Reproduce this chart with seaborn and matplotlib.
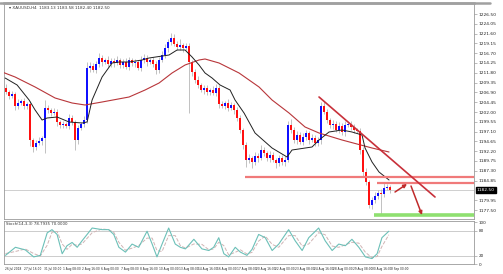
import matplotlib
matplotlib.use("Agg")
import matplotlib.pyplot as plt
from matplotlib.lines import Line2D
import numpy as np
import pandas as pd
import seaborn as sns

# ---------------- data ----------------
first_open = 1208.00
closes = [
    1207.00, 1206.00, 1206.50, 1203.50, 1204.25, 1204.75, 1203.50, 1204.00, 1195.00, 1193.25,
    1194.25, 1194.75, 1195.50, 1203.00, 1202.50, 1201.75, 1202.00, 1199.50, 1198.75, 1199.00,
    1198.50, 1200.50, 1199.50, 1195.00, 1198.00, 1199.00, 1200.00, 1213.00, 1213.50, 1212.50,
    1214.00, 1215.50, 1214.50, 1215.00, 1214.00, 1214.75, 1214.25, 1215.00, 1213.75, 1214.50,
    1213.25, 1215.00, 1214.25, 1214.50, 1213.00, 1215.00, 1215.50, 1214.50, 1215.00, 1214.00,
    1212.50, 1215.00, 1216.25, 1218.00, 1219.50, 1220.50, 1219.00, 1218.25, 1218.75, 1218.00,
    1218.50, 1214.50, 1212.00, 1210.00, 1208.75, 1207.50, 1208.00, 1207.00, 1207.50, 1206.75,
    1208.00, 1204.00, 1203.50, 1204.25, 1203.00, 1203.75, 1202.50, 1200.50, 1197.50, 1193.75,
    1190.00, 1190.50, 1189.50, 1191.00, 1190.50, 1192.50, 1191.75, 1190.50, 1191.25, 1190.00,
    1189.25, 1190.50, 1189.50, 1190.00, 1198.75, 1197.50, 1195.00, 1196.25, 1194.50, 1195.75,
    1196.75, 1195.00, 1195.50, 1194.25, 1195.00, 1203.50, 1202.00, 1200.00, 1198.75, 1199.00,
    1197.50, 1198.50, 1197.00, 1198.75, 1199.00, 1198.25, 1197.50, 1197.25, 1192.50, 1187.00,
    1184.50, 1178.75, 1180.00, 1181.00, 1181.75, 1181.50, 1183.00, 1183.25, 1182.50,
]
upper_wick = [
    1.0, 0.5, 0.8, 0.6, 0.9, 0.5, 0.7, 0.6, 0.8, 0.6,
    0.7, 0.9, 0.5, 2.0, 0.8, 0.6, 1.0, 0.7, 0.5, 0.8,
    0.6, 0.9, 0.7, 0.5, 0.8, 0.6, 0.9, 1.5, 1.0, 0.8,
    0.7, 1.2, 0.8, 0.6, 0.9, 0.7, 0.8, 1.0, 0.6, 0.7,
    0.9, 0.8, 0.6, 0.7, 0.5, 1.0, 0.9, 0.7, 0.6, 0.8,
    0.7, 0.8, 0.9, 1.0, 0.8, 1.2, 0.9, 0.7, 1.5, 0.6,
    0.8, 0.7, 0.6, 0.8, 0.9, 0.6, 0.7, 0.8, 0.6, 0.9,
    1.0, 0.7, 0.8, 0.6, 0.9, 0.7, 0.6, 0.8, 0.7, 0.6,
    0.8, 0.9, 0.6, 1.0, 0.7, 1.2, 0.8, 0.6, 0.9, 0.7,
    0.6, 0.8, 0.7, 0.9, 1.0, 1.5, 0.8, 0.9, 0.7, 1.0,
    0.8, 0.6, 0.9, 0.7, 0.8, 1.0, 1.2, 0.8, 0.6, 0.9,
    0.7, 1.0, 0.8, 0.9, 0.6, 0.8, 0.7, 0.6, 0.8, 0.7,
    0.9, 0.6, 0.8, 1.0, 0.7, 0.9, 1.2, 0.8, 0.6,
]
lower_wick = [
    0.6, 0.8, 0.5, 0.9, 0.7, 0.6, 0.8, 0.7, 1.5, 1.2,
    0.8, 0.6, 0.9, 3.75, 0.7, 0.8, 0.6, 0.9, 0.7, 0.8,
    0.6, 0.7, 0.8, 2.5, 0.9, 0.6, 0.7, 0.8, 0.9, 0.6,
    0.8, 0.7, 0.9, 0.6, 0.8, 0.7, 0.9, 0.6, 0.8, 0.7,
    0.6, 0.8, 0.7, 0.9, 0.6, 0.8, 0.7, 0.9, 0.6, 0.8,
    1.0, 0.7, 0.6, 0.8, 0.9, 0.7, 0.6, 0.8, 0.7, 0.9,
    0.6, 12.75, 0.9, 0.7, 0.8, 0.6, 0.9, 0.7, 0.8, 0.6,
    0.7, 0.9, 0.6, 0.8, 0.7, 0.6, 0.9, 0.8, 0.7, 1.0,
    1.75, 0.8, 1.5, 0.7, 0.9, 0.6, 0.8, 0.7, 0.9, 0.6,
    1.25, 0.8, 0.7, 0.9, 0.6, 0.8, 0.7, 0.9, 0.6, 0.8,
    0.7, 0.9, 0.6, 0.8, 0.7, 0.9, 0.6, 0.8, 0.7, 0.9,
    0.6, 0.8, 0.7, 0.9, 0.6, 0.8, 0.7, 0.6, 0.9, 1.0,
    0.8, 0.75, 0.9, 0.7, 0.8, 5.25, 0.7, 0.6, 0.8,
]

fast_ma_idx = [-0.33, 3.67, 7.67, 9.67, 12.0, 13.67, 17.0, 21.0, 25.33, 27.0, 28.67, 32.0,
               35.33, 37.67, 41.0, 45.33, 47.67, 54.33, 57.0, 59.67, 62.0, 64.33, 66.33,
               68.67, 71.33, 74.67, 76.33, 79.33, 83.0, 88.67, 93.67, 95.33, 102.0, 104.33,
               107.67, 112.0, 115.33, 118.67, 119.67, 122.0, 124.33, 127.67]
fast_ma = [1210.5, 1208.75, 1205.0, 1202.5, 1200.0, 1200.5, 1200.75, 1199.5, 1199.25, 1199.5,
           1205.0, 1210.75, 1214.25, 1214.5, 1214.5, 1215.0, 1215.5, 1216.25, 1217.5, 1217.5,
           1215.75, 1213.75, 1211.75, 1210.5, 1208.75, 1207.5, 1205.0, 1201.75, 1196.75,
           1193.0, 1190.75, 1192.5, 1193.25, 1195.0, 1197.0, 1197.5, 1197.0, 1196.25, 1193.0,
           1189.5, 1187.0, 1185.0]
slow_ma_idx = [-1.33, 3.0, 9.67, 16.33, 22.0, 26.33, 32.0, 41.0, 46.33, 51.0, 55.33, 59.67,
               64.33, 66.33, 71.0, 77.67, 84.33, 88.67, 94.33, 99.67, 104.33, 112.0, 122.0, 127.67]
slow_ma = [1212.0, 1210.75, 1208.25, 1205.5, 1204.25, 1203.75, 1204.5, 1205.75, 1207.5, 1209.25,
           1211.75, 1213.75, 1215.0, 1215.25, 1214.25, 1211.75, 1208.25, 1205.0, 1201.75,
           1198.25, 1196.75, 1195.0, 1193.0, 1192.0]

trend_idx = [104.33, 143.0]
trend_price = [1205.75, 1180.75]
resist_upper, resist_upper_from = 1185.75, 79.67
resist_lower, resist_lower_from = 1184.25, 123.67
support_level, support_from = 1176.25, 122.67
arrow1 = [(129.67, 1182.0), (133.67, 1184.0)]
arrow2 = [(135.0, 1183.5), (138.67, 1176.25)]

price_ticks = [1226.50, 1224.05, 1221.60, 1219.15, 1216.70, 1214.25, 1211.80, 1209.35, 1206.90,
               1204.45, 1202.00, 1199.55, 1197.10, 1194.65, 1192.20, 1189.75, 1187.30, 1184.85,
               1182.40, 1179.95, 1177.50]

stoch_idx = [-0.2, 3.1, 6.4, 9.2, 11.4, 13.7, 15.3, 17, 18.7, 20.3, 22, 23.7, 25.3, 28.7, 32,
             34.2, 35.9, 37.6, 39.8, 42, 44.2, 47, 48.7, 50.3, 52, 54.2, 56.4, 58.1, 59.8, 62.6,
             65.3, 67.6, 69.2, 70.9, 72.6, 74.2, 76.4, 78.1, 80.3, 82, 84.2, 86.4, 88.7, 90.9,
             94.2, 96.4, 98.7, 100.9, 104.2, 106.4, 108.7, 110.9, 113.1, 115.3, 117.6, 119.8,
             122, 123.7, 125.3, 127.6]
stoch_k = [20.7, 40, 33.8, 17, 20.7, 74.6, 82.3, 70.8, 24.6, 43.8, 51.6, 40, 55.4, 86.2, 82.3,
           82.3, 70.8, 40, 28.5, 47.7, 40, 78.5, 47.7, 17, 47.7, 86.2, 47.7, 40, 36.2, 59.2,
           36.2, 32.3, 40, 63, 24.6, 17, 40, 28.5, 20.7, 35, 70.8, 63, 32.3, 47.7, 82.3, 55.4,
           32.3, 63, 86.2, 55.4, 32.3, 47.7, 43.8, 59.2, 40, 17, 13, 24.6, 63, 78.5]
stoch_d = [25, 30, 36, 25, 19, 45, 76, 78, 48, 35, 47, 45, 48, 75, 84, 82, 76, 52, 33, 38,
           44, 62, 62, 32, 30, 68, 68, 44, 38, 48, 47, 34, 36, 52, 44, 22, 28, 34, 24, 28,
           55, 67, 47, 40, 68, 68, 43, 48, 75, 70, 43, 40, 46, 52, 50, 28, 15, 18, 42, 70]

date_tick_idx = [-0.33, 6.1, 12.5, 19.0, 25.4, 31.8, 38.3, 44.7, 51.1, 57.6, 64.0, 70.4, 76.9,
                 83.3, 89.7, 96.2, 102.6, 109.0, 115.5, 121.9, 128.3]
date_labels = ["26 Jul 2018", "27 Jul 16:00", "31 Jul 00:00", "1 Aug 08:00", "2 Aug 16:00",
               "6 Aug 00:00", "7 Aug 08:00", "8 Aug 16:00", "10 Aug 00:00", "13 Aug 08:00",
               "14 Aug 16:00", "16 Aug 00:00", "17 Aug 08:00", "20 Aug 16:00", "22 Aug 00:00",
               "23 Aug 08:00", "24 Aug 16:00", "28 Aug 00:00", "29 Aug 08:00", "30 Aug 16:00",
               "3 Sep 00:00"]
title_text = "XAUUSD,H4  1183.13 1183.58 1182.40 1182.50"
stoch_title = "Stoch(14,3,3) 78.7935 70.0000"

# ---------------- styling ----------------
sns.set_style("white")
plt.rcParams['font.family'] = ['DejaVu Sans']

W, H = 503, 274
fig = plt.figure(figsize=(W / 100, H / 100), dpi=100)
fig.patch.set_facecolor("white")

def frac(x0, y0, x1, y1):
    return [x0 / W, 1 - y1 / H, (x1 - x0) / W, (y1 - y0) / H]

ax = fig.add_axes(frac(4, 3, 474, 219))
ax2 = fig.add_axes(frac(4, 221, 474, 264))

df = pd.DataFrame({"close": closes, "uw": upper_wick, "lw": lower_wick})
df["open"] = [first_open] + closes[:-1]
df["idx"] = np.arange(len(df))
df["top"] = df[["open", "close"]].max(axis=1)
df["bot"] = df[["open", "close"]].min(axis=1)
df["high"] = df["top"] + df["uw"]
df["low"] = df["bot"] - df["lw"]
df["up"] = df["close"] >= df["open"]

# wicks
ax.vlines(df["idx"], df["low"], df["high"], color="#a8a8a8", lw=0.5, zorder=2)
# bodies
heights = (df["top"] - df["bot"]).clip(lower=0.25)
colors = np.where(df["up"], "#1010ff", "#ff1010")
ax.bar(df["idx"], heights, bottom=df["bot"], width=0.6, color=colors, lw=0, zorder=3)

# moving averages
sns.lineplot(x=slow_ma_idx, y=slow_ma, ax=ax, color="#b8363a", lw=0.8, zorder=4)
sns.lineplot(x=fast_ma_idx, y=fast_ma, ax=ax, color="#202020", lw=0.7, zorder=4)

# bid line
ax.axhline(closes[-1], color="#c8c8c8", lw=0.6, zorder=1)

# drawn levels
xr = 156.0
ax.hlines(resist_upper, resist_upper_from, xr, color="#f07a7a", lw=1.6, zorder=5)
ax.hlines(resist_lower, resist_lower_from, xr, color="#f07a7a", lw=1.6, zorder=5)
ax.hlines(support_level, support_from, xr, color="#8fe070", lw=2.6, zorder=5)
ax.plot(trend_idx, trend_price, color="#c8303a", lw=1.2, zorder=5)

for (x0, y0), (x1, y1) in [arrow1, arrow2]:
    ax.annotate("", xy=(x1, y1), xytext=(x0, y0),
                arrowprops=dict(arrowstyle="-|>", color="#c02a2a", lw=1.1,
                                mutation_scale=5, shrinkA=0, shrinkB=0), zorder=6)

ax.set_xlim(-0.7, xr)
ax.set_ylim(1175.25, 1229.25)
ax.set_xticks([])
ax.yaxis.tick_right()
# the tick label under the current-price box is hidden by that box, as in the terminal
shown_ticks = [v for v in price_ticks if abs(v - closes[-1]) > 1.2]
ax.set_yticks(shown_ticks)
ax.set_yticklabels([f"{v:.2f}" for v in shown_ticks], fontsize=3.2, color="#222222")
ax.tick_params(axis="y", length=2, width=0.4, color="#888888", pad=1.5)
for s in ["left", "right", "bottom"]:
    ax.spines[s].set_color("#9a9a9a")
    ax.spines[s].set_linewidth(0.6)
ax.spines["top"].set_color("#a0a0a0")
ax.spines["top"].set_linewidth(1.8)
ax.set_xlabel("")
ax.set_ylabel("")

# current price box
ax.text(1.006, closes[-1], f"{closes[-1]:.2f}", transform=ax.get_yaxis_transform(),
        fontsize=3.2, color="white", va="center", ha="left", zorder=10,
        bbox=dict(boxstyle="square,pad=0.25", fc="black", ec="black"))

ax.text(0.01, 0.985, "\u25be " + title_text, transform=ax.transAxes, fontsize=3,
        color="#333333", va="top", ha="left")

# top border extension
fig.add_artist(Line2D([0, 490 / W], [1 - 3 / H] * 2, color="#a0a0a0", lw=1.8))

# ---------------- stochastic panel ----------------
ax2.axhline(80, color="#c4c4c4", lw=0.6)
ax2.axhline(20, color="#c4c4c4", lw=0.6)
sns.lineplot(x=stoch_idx, y=stoch_d, ax=ax2, color="#d0b4b4", lw=0.7, linestyle="--")
sns.lineplot(x=stoch_idx, y=stoch_k, ax=ax2, color="#6cc0b8", lw=0.8)
ax2.set_xlim(-0.7, xr)
ax2.set_ylim(0, 103)
ax2.yaxis.tick_right()
ax2.set_yticks([100, 80, 20, 0])
ax2.set_yticklabels(["100", "80", "20", "0"], fontsize=3, color="#222222")
ax2.tick_params(axis="y", length=2, width=0.4, color="#888888", pad=1.5)
ax2.set_xticks(date_tick_idx)
ax2.set_xticklabels(date_labels, fontsize=2.1, color="#222222", ha="left")
ax2.tick_params(axis="x", length=1.5, width=0.4, color="#888888", pad=1)
for s in ["left", "right", "bottom", "top"]:
    ax2.spines[s].set_color("#9a9a9a")
    ax2.spines[s].set_linewidth(0.6)
ax2.set_xlabel("")
ax2.set_ylabel("")
ax2.text(0.005, 0.97, stoch_title, transform=ax2.transAxes, fontsize=2.8,
         color="#333333", va="top", ha="left")

fig.savefig("out.png", dpi=100, facecolor="white")
